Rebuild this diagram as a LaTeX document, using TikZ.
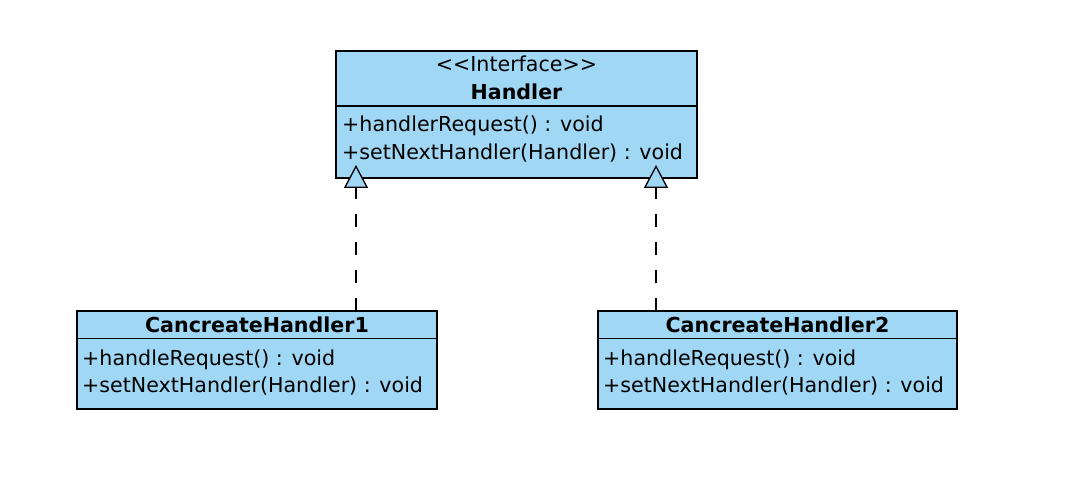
\documentclass[tikz,border=0pt]{standalone}
\usepackage{fontspec}
\setmainfont{DejaVu Sans}
\usetikzlibrary{arrows.meta}
\definecolor{clsfill}{RGB}{159,215,245}
\tikzset{
  cls/.style={draw=black, fill=clsfill, line width=1.5pt, rectangle, inner sep=0pt},
  txt/.style={inner sep=0pt, font=\fontsize{20.6}{24}\selectfont},
  ttl/.style={inner sep=0pt, font=\fontsize{20.6}{24}\selectfont\bfseries},
  divider/.style={draw=black, line width=1.5pt},
  realize/.style={draw=black, line width=1.6pt, dash pattern=on 13pt off 15pt,
    -{Triangle[open, fill=clsfill, length=23pt, width=24pt, line width=1.3pt]}}
}
\begin{document}
\begin{tikzpicture}[x=1pt,y=-1pt]
\useasboundingbox (0,0) rectangle (1086,486);
% Interface box
\node[cls, minimum width=361pt, minimum height=127pt] (H) at (516.5,114.5) {};
\coordinate (hdl) at (336,106);
\coordinate (hdr) at (697,106);
\draw[divider] (hdl) -- (hdr);
\node[txt, anchor=base] (hst) at (516.5,72) {\textless{}\textless{}Interface\textgreater{}\textgreater{}};
\node[ttl, anchor=base] (hn) at (516.5,100) {Handler};
\node[txt, anchor=base west] (h1) at (342,132) {+handlerRequest() : void};
\node[txt, anchor=base west] (h2) at (342,160) {+setNextHandler(Handler) : void};
% Concrete 1
\node[cls, minimum width=360pt, minimum height=98pt] (C1) at (257,360) {};
\coordinate (c1l) at (77,338.5);
\coordinate (c1r) at (437,338.5);
\draw[divider] (c1l) -- (c1r);
\node[ttl, anchor=base] (c1n) at (257,332) {CancreateHandler1};
\node[txt, anchor=base west] (c11) at (82,365) {+handleRequest() : void};
\node[txt, anchor=base west] (c12) at (82,392) {+setNextHandler(Handler) : void};
% Concrete 2
\node[cls, minimum width=359pt, minimum height=98pt] (C2) at (777.5,360) {};
\coordinate (c2l) at (598,338.5);
\coordinate (c2r) at (957,338.5);
\draw[divider] (c2l) -- (c2r);
\node[ttl, anchor=base] (c2n) at (777.5,332) {CancreateHandler2};
\node[txt, anchor=base west] (c21) at (603,365) {+handleRequest() : void};
\node[txt, anchor=base west] (c22) at (603,392) {+setNextHandler(Handler) : void};
% realizations
\coordinate (a1s) at (356,311);
\coordinate (a1e) at (356,165);
\coordinate (a2s) at (656,311);
\coordinate (a2e) at (656,165);
\draw[realize] (a1s) -- (a1e);
\draw[realize] (a2s) -- (a2e);
\end{tikzpicture}
\end{document}
